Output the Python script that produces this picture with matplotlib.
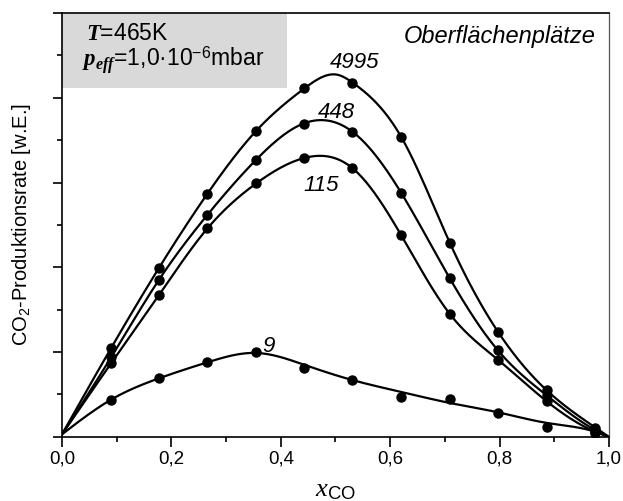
import matplotlib
matplotlib.use("Agg")
import matplotlib.pyplot as plt
import numpy as np
from matplotlib.patches import Rectangle
from matplotlib.ticker import MultipleLocator, FuncFormatter

plt.rcParams["font.family"] = ["Liberation Sans", "DejaVu Sans"]
plt.rcParams["mathtext.fontset"] = "custom"
plt.rcParams["mathtext.rm"] = "Liberation Sans"
plt.rcParams["mathtext.it"] = "Liberation Serif:italic"
plt.rcParams["mathtext.bf"] = "Liberation Serif:italic:bold"

# measured points (CO mole fraction vs CO2 rate, arbitrary units)
x_co = [0.09, 0.177, 0.266, 0.355, 0.443, 0.531, 0.62, 0.709, 0.797, 0.886, 0.975]
rate_4995 = [1.05, 1.99, 2.87, 3.61, 4.11, 4.18, 3.54, 2.29, 1.24, 0.55, 0.11]
rate_448 = [0.94, 1.85, 2.62, 3.27, 3.69, 3.60, 2.88, 1.87, 1.02, 0.49, 0.08]
rate_115 = [0.87, 1.67, 2.46, 2.99, 3.29, 3.17, 2.38, 1.45, 0.91, 0.42, 0.06]
rate_9 = [0.44, 0.69, 0.88, 1.00, 0.81, 0.67, 0.47, 0.45, 0.28, 0.12, 0.04]

# fitted lines
fit_x_4995 = [0.0, 0.09, 0.177, 0.266, 0.355, 0.443, 0.505, 0.531, 0.62, 0.709, 0.797, 0.886, 0.975, 1.0]
fit_y_4995 = [0.03, 1.05, 1.99, 2.87, 3.61, 4.11, 4.27, 4.18, 3.54, 2.29, 1.24, 0.55, 0.11, 0.0]
fit_x_448 = [0.0, 0.09, 0.177, 0.266, 0.355, 0.443, 0.531, 0.62, 0.709, 0.797, 0.886, 0.975, 1.0]
fit_y_448 = [0.03, 0.94, 1.85, 2.62, 3.27, 3.70, 3.60, 2.88, 1.87, 1.02, 0.49, 0.08, 0.0]
fit_x_115 = [0.0, 0.09, 0.177, 0.266, 0.355, 0.443, 0.531, 0.62, 0.709, 0.797, 0.886, 0.975, 1.0]
fit_y_115 = [0.03, 0.87, 1.67, 2.46, 2.99, 3.29, 3.17, 2.38, 1.45, 0.91, 0.42, 0.06, 0.0]
fit_x_9 = [0.0, 0.09, 0.177, 0.266, 0.355, 0.443, 0.531, 0.62, 0.709, 0.797, 0.886, 0.975, 1.0]
fit_y_9 = [0.03, 0.44, 0.69, 0.88, 0.99, 0.85, 0.67, 0.53, 0.40, 0.29, 0.165, 0.06, 0.0]

curve_labels = ["4995", "448", "115", "9"]


def natural_spline(x, y, xs):
    x = np.asarray(x, float)
    y = np.asarray(y, float)
    n = len(x)
    h = np.diff(x)
    A = np.zeros((n, n))
    b = np.zeros(n)
    A[0, 0] = 1.0
    A[-1, -1] = 1.0
    for i in range(1, n - 1):
        A[i, i - 1] = h[i - 1]
        A[i, i] = 2 * (h[i - 1] + h[i])
        A[i, i + 1] = h[i]
        b[i] = 6 * ((y[i + 1] - y[i]) / h[i] - (y[i] - y[i - 1]) / h[i - 1])
    M = np.linalg.solve(A, b)
    idx = np.clip(np.searchsorted(x, xs) - 1, 0, n - 2)
    hi = h[idx]
    a = x[idx + 1] - xs
    c = xs - x[idx]
    return (M[idx] * a ** 3 / (6 * hi) + M[idx + 1] * c ** 3 / (6 * hi)
            + (y[idx] / hi - M[idx] * hi / 6) * a
            + (y[idx + 1] / hi - M[idx + 1] * hi / 6) * c)


fig = plt.figure(figsize=(6.23, 5.01), dpi=100)
ax = fig.add_axes([0.0995, 0.128, 0.878, 0.846])

ax.add_patch(Rectangle((0, 0.823), 0.411, 0.177, transform=ax.transAxes,
                       facecolor="#d9d9d9", edgecolor="none", zorder=0))

xs = np.linspace(0, 1, 400)
fits = [(fit_x_4995, fit_y_4995), (fit_x_448, fit_y_448),
        (fit_x_115, fit_y_115), (fit_x_9, fit_y_9)]
for fx, fy in fits:
    ax.plot(xs, natural_spline(fx, fy, xs), color="black", lw=1.6, zorder=2)
for series in [rate_4995, rate_448, rate_115, rate_9]:
    ax.plot(x_co, series, "o", color="black", ms=6.5, zorder=3)

label_pos = [(0.490, 4.35), (0.468, 3.765), (0.441, 2.905), (0.366, 1.0)]
for text, (lx, ly) in zip(curve_labels, label_pos):
    ax.text(lx, ly, text, fontsize=16, style="italic", ha="left", va="baseline")

ax.text(0.044, 0.936, r"$\mathbf{T}$=465K", transform=ax.transAxes,
        fontsize=16.5, va="baseline")
ax.text(0.036, 0.873, r"$\mathbf{p}_{\mathbf{eff}}$=1,0·$10^{-6}$mbar",
        transform=ax.transAxes, fontsize=16.5, va="baseline")
ax.text(0.976, 0.929, "Oberflächenplätze", transform=ax.transAxes,
        fontsize=17, style="italic", ha="right", va="baseline")

ax.set_xlim(0, 1)
ax.set_ylim(0, 5)
ax.xaxis.set_major_locator(MultipleLocator(0.2))
ax.xaxis.set_minor_locator(MultipleLocator(0.1))
ax.xaxis.set_major_formatter(FuncFormatter(lambda v, p: f"{v:.1f}".replace(".", ",")))
ax.yaxis.set_major_locator(MultipleLocator(1))
ax.yaxis.set_minor_locator(MultipleLocator(0.5))
ax.set_yticklabels([])
ax.tick_params(axis="both", which="both", direction="out", top=False, right=False,
               width=1.2, labelsize=13.5)
ax.tick_params(axis="x", which="major", length=7, pad=3)
ax.tick_params(axis="x", which="minor", length=3.5)
ax.tick_params(axis="y", which="major", length=6.5)
ax.tick_params(axis="y", which="minor", length=3.5)
for sp in ax.spines.values():
    sp.set_linewidth(1.2)
ax.spines["right"].set_color("#555555")
ax.spines["right"].set_linewidth(0.9)

ax.set_ylabel("CO$_2$-Produktionsrate [w.E.]", fontsize=14.5)
ax.yaxis.set_label_coords(-0.053, 0.5)
ax.set_xlabel(r"$x_{\mathrm{CO}}$", fontsize=19)
ax.xaxis.set_label_coords(0.5, -0.098)

fig.savefig("out.png", dpi=100)
